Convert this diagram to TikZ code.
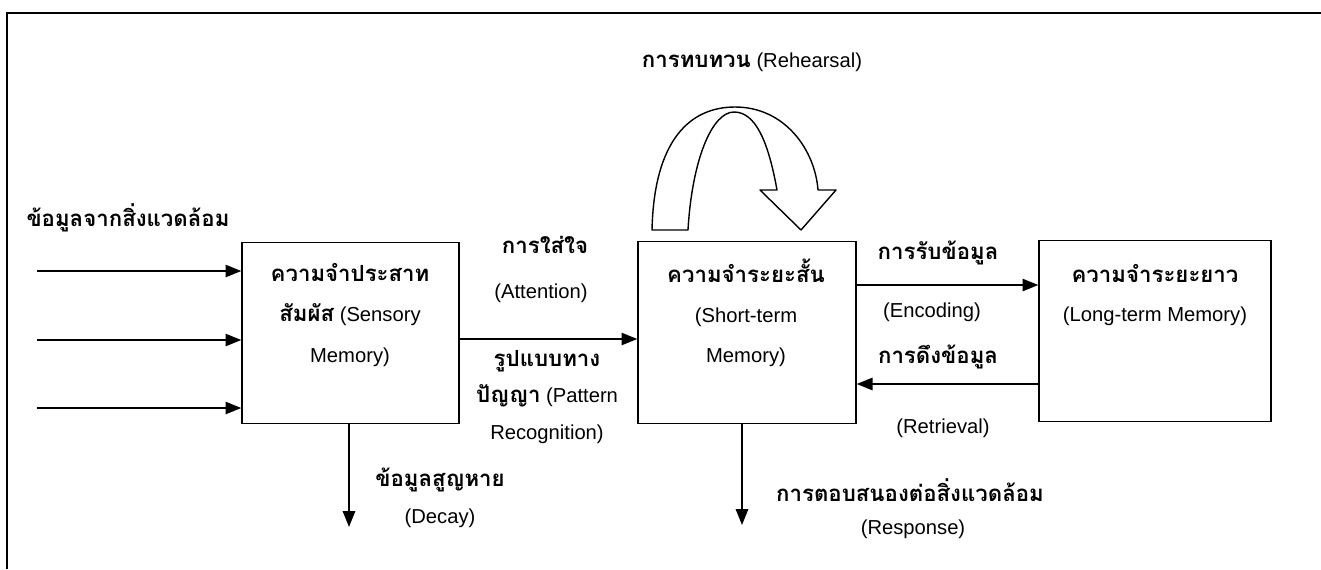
\documentclass[tikz,border=0pt]{standalone}
\usepackage{fontspec}
\setmainfont{Liberation Sans}
\newfontfamily\thaifont[Script=Thai,Scale=1.1]{Loma}
\usetikzlibrary{arrows.meta}
\usetikzlibrary{positioning}

\newcommand{\thx}[1]{{\thaifont\bfseries #1}}

\tikzset{
	memory/.style={draw, line width=0.8pt, minimum height=3.63cm},
	txt/.style={align=center, inner sep=0pt, font=\fontsize{11.5}{14}\selectfont},
	flow/.style={-{Triangle[length=9pt,width=7pt]}, line width=1pt},
}

\begin{document}
\begin{tikzpicture}[x=0.02cm, y=-0.02cm]
	\useasboundingbox (0,0) rectangle (1321,569);
	\draw[line width=1.2pt] (7,569) -- (7,13) -- (1321,13);

	% memory stores
	\node[memory, minimum width=4.34cm] (sensory) at (350.5,333) {};
	\node[memory, minimum width=4.36cm] (shortterm) at (747,332.5) {};
	\node[memory, minimum width=4.64cm] (longterm) at (1155,331) {};

	\node[txt, font=\fontsize{11.5}{22.9}\selectfont] (sensoryText) at (350,315)
		{\thx{ความจำประสาท}\\\thx{สัมผัส} (Sensory\\Memory)};
	\node[txt, font=\fontsize{11.5}{22.9}\selectfont] (shorttermText) at (746,313)
		{\thx{ความจำระยะสั้น}\\(Short-term\\Memory)};
	\node[txt, font=\fontsize{11.5}{22.7}\selectfont] (longtermText) at (1155,295)
		{\thx{ความจำระยะยาว}\\(Long-term Memory)};

	% inputs
	\node[txt] (input) at (128,218) {\thx{ข้อมูลจากสิ่งแวดล้อม}};
	\foreach \y/\n in {271/1, 340/2, 408/3}{%
		\coordinate (in\n) at (37,\y);
		\draw[flow] (in\n) -- (in\n -| sensory.west);
	}

	% attention / pattern recognition
	\draw[flow] ([yshift=-0.12cm]sensory.east) -- ([yshift=-0.12cm]sensory.east -| shortterm.west);
	\node[txt] (attention) at (545,245) {\thx{การใส่ใจ}};
	\node[txt] (attentionEn) at (541,293) {(Attention)};
	\node[txt, font=\fontsize{11.5}{20.7}\selectfont] (pattern) at (547,397)
		{\thx{รูปแบบทาง}\\\thx{ปัญญา} (Pattern\\Recognition)};

	% decay
	\coordinate (decayEnd) at (349,527);
	\draw[flow] (sensory.south -| decayEnd) -- (decayEnd);
	\node[txt] (decay) at (440,480) {\thx{ข้อมูลสูญหาย}};
	\node[txt] (decayEn) at (440,518) {(Decay)};

	% encoding / retrieval
	\draw[flow] ([yshift=0.95cm]shortterm.east) -- ([yshift=0.95cm]shortterm.east -| longterm.west);
	\draw[flow] ([yshift=-1.06cm]longterm.west) -- ([yshift=-1.06cm]longterm.west -| shortterm.east);
	\node[txt] (encoding) at (938,253) {\thx{การรับข้อมูล}};
	\node[txt] (encodingEn) at (932,312) {(Encoding)};
	\node[txt] (retrieval) at (938,357) {\thx{การดึงข้อมูล}};
	\node[txt] (retrievalEn) at (943,428) {(Retrieval)};

	% response
	\coordinate (responseEnd) at (742,525);
	\draw[flow] (shortterm.south -| responseEnd) -- (responseEnd);
	\node[txt] (response) at (910,490) {\thx{การตอบสนองต่อสิ่งแวดล้อม}};
	\node[txt] (responseEn) at (913,529) {(Response)};

	% rehearsal
	\node[txt] (rehearsal) at (752,62) {\thx{การทบทวน} (Rehearsal)};
	\draw[line width=0.8pt, line join=round] (652,230) .. controls (654,140) and (690,107) .. (735,107)
		.. controls (785,107) and (815,150) .. (818,190)
		-- (836,190) -- (801,230) -- (760,190) -- (777,190)
		.. controls (768,140) and (755,112) .. (734,112)
		.. controls (712,112) and (692,160) .. (688,230) -- cycle;
\end{tikzpicture}
\end{document}
